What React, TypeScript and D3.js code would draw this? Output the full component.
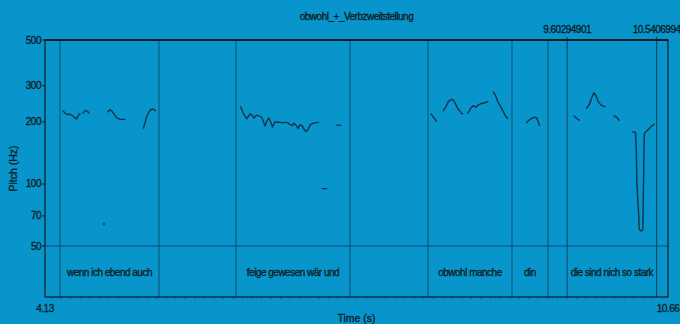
import React from "react";
import * as d3 from "d3";

// Time axis (s) and pitch axis (Hz)
const timeDomain: [number, number] = [4.13, 10.66];
const pitchDomain: [number, number] = [50, 500];
const pitchTicks = [500, 300, 200, 100, 70, 50];
const timeTickLabels = ["4.13", "10.66"];

// Interval tier: boundaries and labels
const tierBoundaries = [4.287, 5.325, 6.132, 7.327, 8.144, 9.025, 9.402];
const cursorTimes = [9.60294901, 10.5406994];
const cursorLabels = ["9.60294901", "10.5406994"];
const intervalStarts = [4.287, 5.325, 6.132, 7.327, 8.144, 9.025, 9.402, 9.60294901];
const intervalEnds = [5.325, 6.132, 7.327, 8.144, 9.025, 9.402, 9.60294901, 10.5406994];
const intervalLabels = [
  "wenn ich ebend auch",
  "",
  "feige gewesen wär und",
  "",
  "obwohl manche",
  "din",
  "",
  "die sind nich so stark",
];

// Pitch contour pieces: [time (s), F0 (Hz)]
const wennA: [number, number][] = [
  [4.319, 226], [4.34, 221], [4.361, 217], [4.382, 219], [4.403, 216],
  [4.423, 214], [4.444, 209], [4.46, 207], [4.476, 214], [4.497, 220],
];
const wennB: [number, number][] = [
  [4.528, 221], [4.549, 226], [4.565, 227], [4.581, 224], [4.591, 221],
];
const wennC: [number, number][] = [
  [4.79, 224], [4.811, 229], [4.832, 226], [4.853, 219], [4.874, 211],
  [4.895, 208], [4.927, 206], [4.969, 206],
];
const wennD: [number, number][] = [
  [5.162, 187], [5.178, 198], [5.194, 211], [5.215, 222], [5.241, 230],
  [5.262, 231], [5.288, 227],
];
const feigeA: [number, number][] = [
  [6.181, 237], [6.209, 220], [6.244, 207], [6.279, 219], [6.3, 216],
  [6.321, 209], [6.347, 216], [6.368, 214], [6.389, 213], [6.41, 207],
  [6.436, 191], [6.454, 201], [6.473, 209], [6.488, 204], [6.515, 189],
  [6.536, 199], [6.562, 200], [6.593, 199], [6.625, 198], [6.646, 199],
  [6.672, 199], [6.698, 194], [6.719, 192], [6.74, 197], [6.761, 193],
  [6.782, 186], [6.803, 194], [6.824, 192], [6.845, 184], [6.866, 180],
  [6.89, 185], [6.908, 193], [6.934, 197], [6.96, 198], [6.995, 199],
];
const feigeB: [number, number][] = [[7.188, 193], [7.229, 193]];
const feigeC: [number, number][] = [[7.037, 95], [7.083, 95]];
const obwohlA: [number, number][] = [[8.176, 219], [8.202, 211], [8.234, 202]];
const obwohlB: [number, number][] = [
  [8.305, 227], [8.333, 237], [8.357, 251], [8.382, 256], [8.401, 257],
  [8.417, 253], [8.438, 242], [8.462, 230], [8.48, 226], [8.498, 220], [8.508, 219],
];
const obwohlC: [number, number][] = [
  [8.561, 220], [8.592, 233], [8.619, 240], [8.648, 236], [8.672, 242],
  [8.707, 246], [8.742, 248], [8.77, 251],
];
const obwohlD: [number, number][] = [
  [8.831, 280], [8.857, 265], [8.881, 248], [8.904, 238], [8.931, 226],
  [8.951, 216], [8.978, 208],
];
const dinA: [number, number][] = [
  [9.177, 199], [9.203, 204], [9.231, 208], [9.255, 211], [9.282, 210],
  [9.297, 202], [9.311, 193],
];
const starkA: [number, number][] = [[9.675, 214], [9.703, 208], [9.73, 204]];
const starkB: [number, number][] = [
  [9.806, 233], [9.837, 244], [9.86, 262], [9.884, 277], [9.905, 269],
  [9.929, 251], [9.955, 242], [9.982, 239], [10.0, 237],
];
const starkC: [number, number][] = [[10.094, 214], [10.122, 211], [10.148, 204]];
const starkD: [number, number][] = [
  [10.29, 179], [10.319, 178], [10.328, 146], [10.333, 105], [10.343, 84],
  [10.353, 71], [10.359, 60], [10.384, 59], [10.396, 60], [10.401, 84],
  [10.406, 124], [10.412, 176], [10.435, 181], [10.456, 184], [10.489, 191],
  [10.516, 195],
];
const pitchPieces = [
  wennA, wennB, wennC, wennD, feigeA, feigeB, feigeC,
  obwohlA, obwohlB, obwohlC, obwohlD, dinA, starkA, starkB, starkC, starkD,
];
// isolated voiced frame
const pitchDots: [number, number][] = [[4.748, 64]];

const BG = "#0795cb";
const INK = "#0c1c24";
const CURVE = "#12344a";
const GRID = "#0b4e6e";
const FONT = "'Liberation Sans', Arial, sans-serif";

const textStyle = {
  fontFamily: FONT,
  fill: INK,
  stroke: INK,
  strokeWidth: 0.3,
};

export default function App() {
  const W = 680;
  const H = 324;
  const left = 45;
  const right = 668;
  const top = 40;
  const tierTop = 246;
  const bottom = 297;

  const x = d3.scaleLinear().domain(timeDomain).range([left, right]);
  const y = d3.scaleLog().domain(pitchDomain).range([tierTop, top]);
  const line = d3
    .line<[number, number]>()
    .x((d) => x(d[0]))
    .y((d) => y(d[1]));

  const minorTicks = d3.range(4.2, 10.66, 0.1);

  return (
    <div style={{ position: "fixed", left: 0, top: 0, width: W, height: H }}>
      <svg width={W} height={H} style={{ display: "block" }}>
        <rect x={0} y={0} width={W} height={H} fill={BG} />

        <text
          x={(left + right) / 2}
          y={20}
          textAnchor="middle"
          fontSize={10}
          letterSpacing={-0.5}
          style={textStyle}
        >
          obwohl_+_Verbzweitstellung
        </text>

        {/* tier boundaries */}
        {tierBoundaries.map((t, i) => (
          <line
            key={"b" + i}
            x1={x(t)}
            x2={x(t)}
            y1={top}
            y2={bottom}
            stroke={GRID}
            strokeWidth={1}
          />
        ))}

        {/* cursor marks */}
        {cursorTimes.map((t, i) => (
          <g key={"c" + i}>
            <line
              x1={x(t)}
              x2={x(t)}
              y1={top - 3}
              y2={bottom}
              stroke={GRID}
              strokeWidth={1.2}
            />
            <text
              x={x(t)}
              y={33}
              textAnchor="middle"
              fontSize={10}
              letterSpacing={-0.5}
              style={textStyle}
            >
              {cursorLabels[i]}
            </text>
          </g>
        ))}

        {/* tier separator */}
        <line x1={left} x2={right} y1={tierTop} y2={tierTop} stroke={GRID} strokeWidth={1} />

        {/* interval labels */}
        {intervalLabels.map((lab, i) =>
          lab ? (
            <text
              key={"l" + i}
              x={x((intervalStarts[i] + intervalEnds[i]) / 2)}
              y={276}
              textAnchor="middle"
              fontSize={10}
              letterSpacing={-0.5}
              style={textStyle}
            >
              {lab}
            </text>
          ) : null
        )}

        {/* pitch contour */}
        {pitchPieces.map((p, i) => (
          <path
            key={"p" + i}
            d={line(p) || ""}
            fill="none"
            stroke={CURVE}
            strokeWidth={1.4}
            strokeLinejoin="round"
            strokeLinecap="round"
          />
        ))}
        {pitchDots.map((d, i) => (
          <circle key={"d" + i} cx={x(d[0])} cy={y(d[1])} r={1} fill={CURVE} />
        ))}

        {/* frame */}
        <rect
          x={left}
          y={top}
          width={right - left}
          height={bottom - top}
          fill="none"
          stroke={INK}
          strokeWidth={1.2}
        />
        <line x1={left} x2={right} y1={top} y2={top} stroke={INK} strokeWidth={1.8} />

        {/* pitch axis */}
        {pitchTicks.map((v) => (
          <g key={"y" + v}>
            <line x1={left - 3} x2={left} y1={y(v)} y2={y(v)} stroke={INK} strokeWidth={1} />
            <text
              x={left - 4}
              y={y(v) + 3.5}
              textAnchor="end"
              fontSize={10}
              letterSpacing={-0.5}
              style={textStyle}
            >
              {v}
            </text>
          </g>
        ))}
        <text
          transform={`translate(17,${(top + bottom) / 2}) rotate(-90)`}
          textAnchor="middle"
          fontSize={10.5}
          style={textStyle}
        >
          Pitch (Hz)
        </text>

        {/* time axis */}
        {minorTicks.map((t, i) => (
          <line
            key={"m" + i}
            x1={x(t)}
            x2={x(t)}
            y1={bottom}
            y2={bottom + 2}
            stroke={INK}
            strokeWidth={0.8}
            opacity={0.5}
          />
        ))}
        {timeTickLabels.map((lab, i) => (
          <text
            key={"t" + i}
            x={x(+lab)}
            y={312}
            textAnchor="middle"
            fontSize={10}
            letterSpacing={-0.5}
            style={textStyle}
          >
            {lab}
          </text>
        ))}
        <text
          x={(left + right) / 2}
          y={322}
          textAnchor="middle"
          fontSize={10.5}
          style={textStyle}
        >
          Time (s)
        </text>
      </svg>
    </div>
  );
}
